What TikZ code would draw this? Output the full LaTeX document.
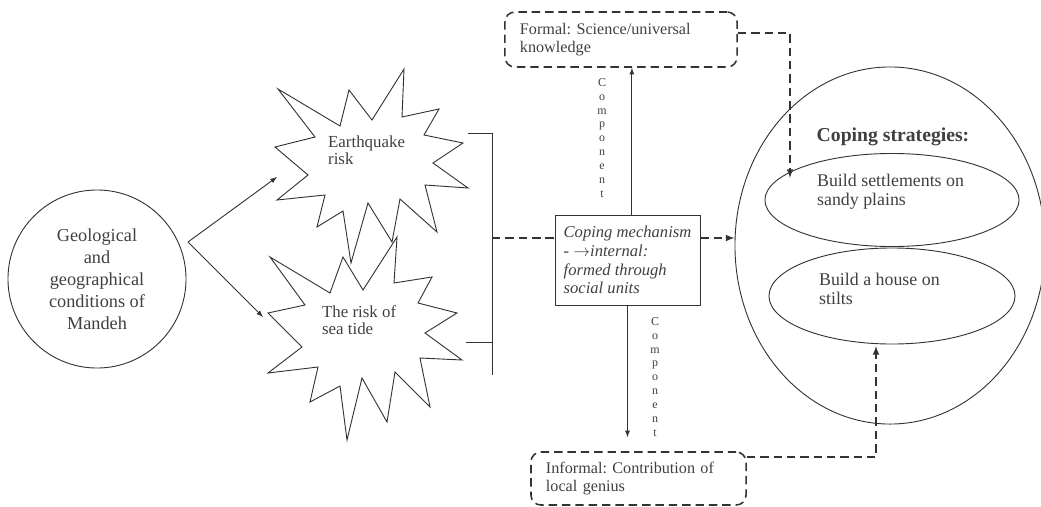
\documentclass[tikz,border=0pt]{standalone}
\usepackage{fontspec}
\setmainfont{Liberation Serif}
\usepackage{tikz}
\usetikzlibrary{shapes.geometric}
\frenchspacing

\definecolor{inkgray}{gray}{0.2}
\definecolor{txtgray}{gray}{0.25}

\tikzset{
  every node/.style={text=txtgray,font=\fontsize{11.5}{12.5}\selectfont},
  dashline/.style={dash pattern=on 6pt off 3.5pt,line width=1.1pt},
  dashbox/.style={draw,dashline,rounded corners=7pt,align=left,inner xsep=0.375cm},
  geocircle/.style={draw,circle,minimum size=4.45cm,inner sep=0pt,align=center,
    font=\fontsize{13}{15.6}\selectfont},
  startext/.style={anchor=west,align=left,font=\fontsize{12}{12}\selectfont},
  mechbox/.style={draw,rectangle,minimum width=3.625cm,minimum height=2.25cm,
    inner xsep=2pt,align=left,font=\itshape\fontsize{11.8}{13.4}\selectfont},
  compstack/.style={align=center,inner sep=0pt,font=\fontsize{8.5}{9.9}\selectfont},
  oval/.style={draw,ellipse,inner sep=0pt},
  ovaltext/.style={anchor=west,align=left,font=\fontsize{12.7}{13.6}\selectfont}
}

\begin{document}
\begin{tikzpicture}[x=0.025cm,y=-0.025cm,>=latex,line width=0.65pt,color=inkgray]
  \useasboundingbox (0,0) rectangle (1041,507);

  % left circle
  \node[geocircle] (geo) at (97,279) {Geological\\and\\geographical\\conditions of\\Mandeh};

  % earthquake star
  \draw (278,89) -- (340,126) -- (349,90) -- (372,120) -- (404,69) -- (402,117)
    -- (439,109) -- (424,135) -- (463,143) -- (433,163) -- (468,188) -- (425,185)
    -- (437,232) -- (400,199) -- (392,242) -- (368,203) -- (351,263) -- (343,211)
    -- (317,227) -- (325,195) -- (277,200) -- (308,175) -- (275,147) -- (315,137) -- cycle;
  \node[startext] (quake) at (323,150) {Earthquake\\risk};

  % sea tide star
  \draw (270,257) -- (330,293) -- (343,257) -- (363,290) -- (397,237) -- (394,283)
    -- (432,277) -- (418,303) -- (457,313) -- (425,333) -- (462,360) -- (420,358)
    -- (430,407) -- (395,372) -- (387,422) -- (362,378) -- (347,440) -- (340,386)
    -- (310,402) -- (318,367) -- (268,373) -- (302,347) -- (268,313) -- (305,305) -- cycle;
  \node[startext] (tide) at (317,320) {The risk of\\sea tide};

  \coordinate (fork) at (188,242);
  \coordinate (quakein) at (277,177);
  \coordinate (tidein) at (263,317);
  \draw[->] (fork) -- (quakein);
  \draw[->] (fork) -- (tidein);

  % bracket
  \coordinate (bk) at (492,238);
  \draw (468,133) -- (492,133) -- (492,375);
  \draw (466,342) -- (492,342);

  % coping mechanism
  \node[mechbox] (mech) at (627.5,260) {Coping mechanism\\- $\rightarrow$internal:\\formed through\\social units};

  \node[dashbox,minimum width=5.8cm,minimum height=1.375cm,text width=5.05cm] (formal) at (621,39.5)
    {Formal: Science/universal\\knowledge};
  \node[dashbox,minimum width=5.375cm,minimum height=1.325cm,text width=4.625cm] (informal) at (638.5,478.5)
    {Informal: Contribution of\\local genius};

  \node[compstack] (compup) at (602,138) {C\\o\\m\\p\\o\\n\\e\\n\\t};
  \node[compstack] (compdown) at (655,377) {C\\o\\m\\p\\o\\n\\e\\n\\t};

  % coping strategies
  \node[oval,minimum width=7.75cm,minimum height=8.925cm] (strat) at (890,245.5) {};
  \node[font=\bfseries\fontsize{14}{15}\selectfont] (strattitle) at (893,137) {Coping strategies:};
  \node[oval,minimum width=6.35cm,minimum height=2.325cm] (sett) at (892,200) {};
  \node[ovaltext] (setttext) at (812,192) {Build settlements on\\sandy plains};
  \node[oval,minimum width=6.15cm,minimum height=2.4cm] (house) at (892,296) {};
  \node[ovaltext] (housetext) at (814,289) {Build a house on\\stilts};

  \coordinate (settin) at (790,178);
  \coordinate (housein) at (876,346);

  % connectors
  \draw[dashline] (bk) -- (bk -| mech.west);
  \draw[dashline,->] (bk -| mech.east) -- (bk -| strat.west);
  \draw[->] ([xshift=0.11cm]mech.north) -- ([xshift=0.11cm]mech.north |- formal.south);
  \draw[->,shorten >=0.35cm] (mech.south) -- (mech.south |- informal.north);
  \draw[dashline,->] ([yshift=0.16cm]formal.east) -| (settin);
  \draw[dashline,->] ([yshift=0.54cm]informal.east) -| (housein);
\end{tikzpicture}
\end{document}
